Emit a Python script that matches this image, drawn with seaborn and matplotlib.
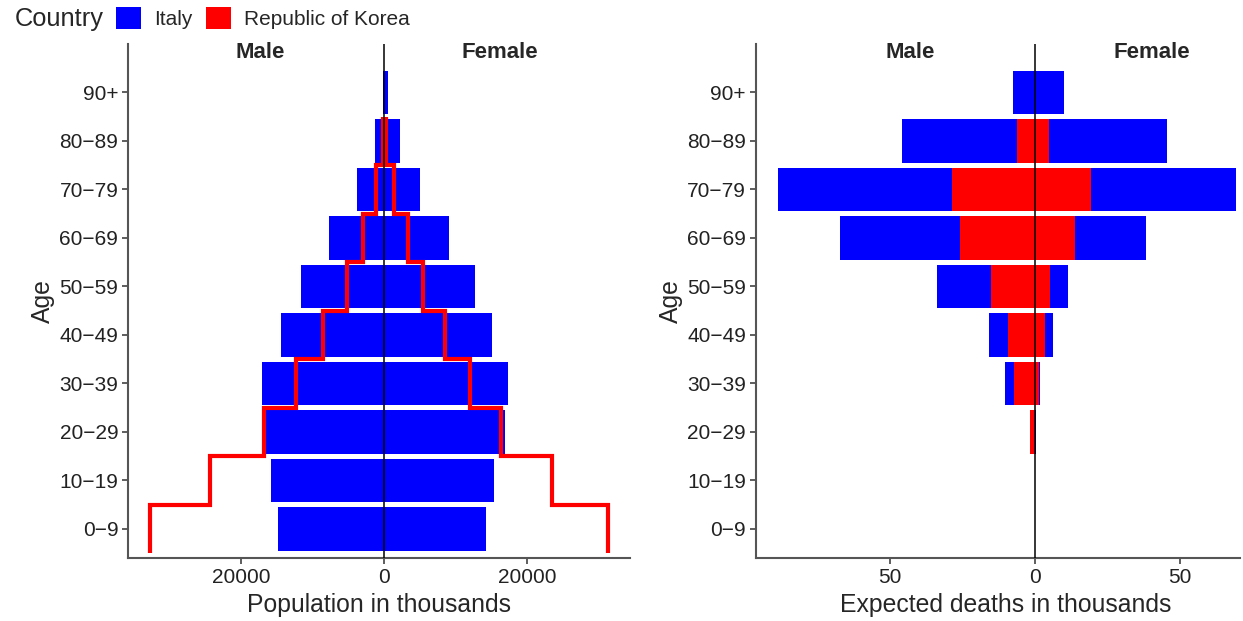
import matplotlib
matplotlib.use("Agg")
import matplotlib.pyplot as plt
import matplotlib.patches as mpatches
import seaborn as sns
import numpy as np
import pandas as pd

# --- DATOS ---
edades = ["0\u22129", "10\u221219", "20\u221229", "30\u221239", "40\u221249",
          "50\u221259", "60\u221269", "70\u221279", "80\u221289", "90+"]

# Poblacion (miles)
italia_pob_h = [14840, 15820, 16570, 17130, 14370, 11620, 7750, 3780, 1260, 100]
italia_pob_m = [14280, 15400, 16940, 17400, 15120, 12790, 9150, 5040, 2240, 520]
corea_pob_h = [32720, 24360, 16800, 12320, 8540, 5230, 2940, 1170, 140]
corea_pob_m = [31310, 23520, 16380, 12090, 8540, 5510, 3360, 1400, 240]

# Muertes esperadas (miles)
italia_muertes_h = [0, 0, 0.4, 10.2, 15.9, 33.8, 67.2, 88.5, 45.8, 7.5]
italia_muertes_m = [0, 0, 0.2, 1.8, 6.1, 11.5, 38.2, 69.2, 45.6, 9.9]
corea_muertes_h = [0, 0, 1.8, 7.3, 9.4, 15.3, 25.7, 28.6, 6.3, 0]
corea_muertes_m = [0, 0, 0.1, 1.5, 3.6, 5.1, 13.8, 19.4, 4.8, 0]

AZUL = "#0000FF"
ROJO = "#FF0000"
GRIS = "#333333"

sns.set_style("white")
plt.rcParams["font.family"] = ["Liberation Sans", "DejaVu Sans"]

W, H = 1243, 621
fig = plt.figure(figsize=(W / 100, H / 100), dpi=100)

orden = edades[::-1]  # 90+ arriba


def barras(ax, valores, color):
    df = pd.DataFrame({"edad": edades, "valor": valores})
    sns.barplot(data=df, x="valor", y="edad", order=orden, orient="h",
                color=color, saturation=1, width=0.9, linewidth=0,
                errorbar=None, ax=ax)


def estilo(ax, xlabel, ticks, xlim, pos_male, pos_female, xlabel_x=0.5):
    ax.axvline(0, color="black", lw=1.1, zorder=6)
    ax.set_xlim(*xlim)
    ax.set_ylim(len(edades) - 0.4, -1.0)
    ax.set_xticks(ticks)
    ax.set_xticklabels([str(abs(t)) for t in ticks])
    ax.set_xlabel(xlabel, fontsize=17.8, labelpad=4)
    ax.xaxis.set_label_coords(xlabel_x, -0.068)
    ax.xaxis.label.set_va("top")
    ax.set_ylabel("Age", fontsize=17.8, labelpad=3)
    ax.tick_params(axis="both", length=4, width=1.1, color=GRIS,
                   labelsize=15, labelcolor="#222222", pad=3, left=True, bottom=True)
    for s in ["top", "right"]:
        ax.spines[s].set_visible(False)
    for s in ["left", "bottom"]:
        ax.spines[s].set_color("#555555")
        ax.spines[s].set_linewidth(1.5)
    ax.text(pos_male, -0.82, "Male", ha="center", va="center",
            fontsize=16, weight="bold")
    ax.text(pos_female, -0.82, "Female", ha="center", va="center",
            fontsize=16, weight="bold")


# --- PANEL IZQUIERDO: poblacion ---
ax1 = fig.add_axes([128 / W, 1 - 558 / H, (630 - 128) / W, (558 - 44) / H])
barras(ax1, -np.array(italia_pob_h), AZUL)
barras(ax1, np.array(italia_pob_m), AZUL)

pos = len(edades) - 1 - np.arange(len(corea_pob_h))
y_paso = np.column_stack([pos + 0.5, pos - 0.5]).ravel()
ax1.plot(-np.repeat(corea_pob_h, 2), y_paso, color=ROJO, lw=3,
         solid_capstyle="butt", solid_joinstyle="miter", zorder=4)
ax1.plot(np.repeat(corea_pob_m, 2), y_paso, color=ROJO, lw=3,
         solid_capstyle="butt", solid_joinstyle="miter", zorder=4)

estilo(ax1, "Population in thousands", [-20000, 0, 20000],
       (-35840, 34440), -17360, 16240)

# --- PANEL DERECHO: muertes esperadas ---
ax2 = fig.add_axes([755.7 / W, 1 - 558 / H, (1240 - 755.7) / W, (558 - 44) / H])
barras(ax2, -np.array(italia_muertes_h), AZUL)
barras(ax2, np.array(italia_muertes_m), AZUL)
barras(ax2, -np.array(corea_muertes_h), ROJO)
barras(ax2, np.array(corea_muertes_m), ROJO)

estilo(ax2, "Expected deaths in thousands", [-50, 0, 50],
       (-96.3, 70.7), -42.9, 40.2, xlabel_x=0.517)

# --- LEYENDA ---
fig.text(15 / W, 1 - 19 / H, "Country", fontsize=18.3, va="center", ha="left")
handles = [mpatches.Patch(facecolor=AZUL, edgecolor="none", label="Italy"),
           mpatches.Patch(facecolor=ROJO, edgecolor="none", label="Republic of Korea")]
fig.legend(handles=handles, ncol=2, loc="center left",
           bbox_to_anchor=(116 / W, 1 - 18 / H), frameon=False, fontsize=15,
           handlelength=1.2, handleheight=1.2, handletextpad=0.65,
           columnspacing=0.62, borderpad=0, borderaxespad=0)

fig.savefig("out.png", dpi=100)
